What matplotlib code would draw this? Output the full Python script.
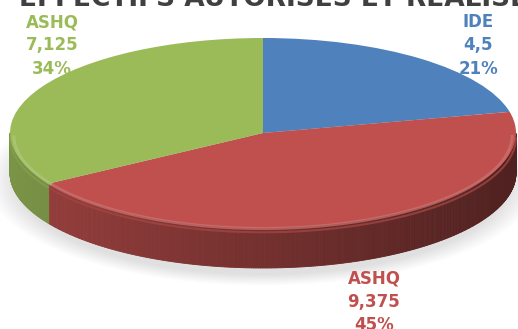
import numpy as np
import matplotlib
matplotlib.use("Agg")
import matplotlib.pyplot as plt
from matplotlib.collections import PolyCollection
from matplotlib.colors import to_rgb

# Data
categories = ["IDE", "ASHQ", "ASHQ"]
values = [4.5, 9.375, 7.125]
colors = ["#4F81BD", "#C0504D", "#9BBB59"]
title = "EFFECTIFS AUTORISES ET REALISES"

W, H = 518, 329
fig = plt.figure(figsize=(W / 100, H / 100), dpi=100)
ax = fig.add_axes([0, 0, 1, 1])

# Pie placement (pixels, measured from the top-left corner)
cx, cy = 263, 133
rx, ry = 253, 95
depth = 40 / ry          # thickness of the disc in y data units

wedges, _ = ax.pie(values, colors=colors, startangle=90, counterclock=False,
                   radius=1, wedgeprops=dict(linewidth=0))
for w in wedges:
    w.set_zorder(3)

# Stretch the unit pie into a flat ellipse
x0, x1 = -cx / rx, (W - cx) / rx
y0, y1 = (cy - H) / ry, cy / ry
ax.set_aspect("auto")
ax.set_xlim(x0, x1)
ax.set_ylim(y0, y1)
ax.axis("off")


def shade(color, f):
    r, g, b = to_rgb(color)
    return (r * f, g * f, b * f)


def lighten(color, f):
    r, g, b = to_rgb(color)
    return (r + (1 - r) * f, g + (1 - g) * f, b + (1 - b) * f)


# Soft shadow under the disc
gx, gy = np.meshgrid(np.linspace(x0, x1, W), np.linspace(y1, y0, H))
dist = np.sqrt(gx ** 2 / 1.01 + ((gy + depth + 0.08) / 1.02) ** 2)
alpha = 0.22 * np.clip(1 - (dist - 0.97) / 0.12, 0, 1)
shadow = np.zeros((H, W, 4))
shadow[..., :3] = 0.45
shadow[..., 3] = alpha
ax.imshow(shadow, extent=(x0, x1, y0, y1), aspect="auto", zorder=1,
          interpolation="bilinear")

# Visible front wall of each wedge
polys, fcols = [], []
for w, c in zip(wedges, colors):
    t = np.linspace(w.theta1, w.theta2, max(2, int(abs(w.theta2 - w.theta1) * 2)))
    tr = np.radians(t)
    for a0, a1 in zip(tr[:-1], tr[1:]):
        mid = 0.5 * (a0 + a1)
        if np.sin(mid) >= 0:
            continue
        xa, ya, xb, yb = np.cos(a0), np.sin(a0), np.cos(a1), np.sin(a1)
        polys.append([(xa, ya), (xb, yb), (xb, yb - depth), (xa, ya - depth)])
        fcols.append(shade(c, 0.6 - 0.19 * np.cos(mid)))
ax.add_collection(PolyCollection(polys, facecolors=fcols, edgecolors=fcols,
                                 linewidths=0.6, zorder=2))

# Bevel highlight along the front rim of the top face
for w, c in zip(wedges, colors):
    t = np.radians(np.linspace(w.theta1, w.theta2, 200))
    s = np.sin(t) < 0
    if s.any():
        tt = t[s]
        ax.plot(0.985 * np.cos(tt), 0.985 * np.sin(tt) - 0.02, color=lighten(c, 0.2),
                lw=2.2, alpha=0.7, zorder=4, solid_capstyle="butt")
        ax.plot(np.cos(tt), np.sin(tt) - 0.045, color=shade(c, 0.85),
                lw=1.5, alpha=0.8, zorder=2.5, solid_capstyle="butt")

# Data labels: name, value, percentage
total = sum(values)
label_x = [478, 374, 52]
label_base = [[27, 50, 74], [284, 307, 330], [27, 50, 74]]
for name, v, c, lx, bases in zip(categories, values, colors, label_x, label_base):
    lines = [name, f"{v:g}".replace(".", ","), f"{round(100 * v / total)}%"]
    for s, by in zip(lines, bases):
        fig.text(lx / W, 1 - by / H, s, ha="center", va="baseline",
                 color=c, fontsize=12, fontweight="bold")

# Chart title (runs past the top edge)
fig.text(19 / W, 1 - 6 / H, title, ha="left", va="baseline",
         fontsize=19, fontweight="bold", color="#404040")

fig.savefig("out.png", dpi=100)
